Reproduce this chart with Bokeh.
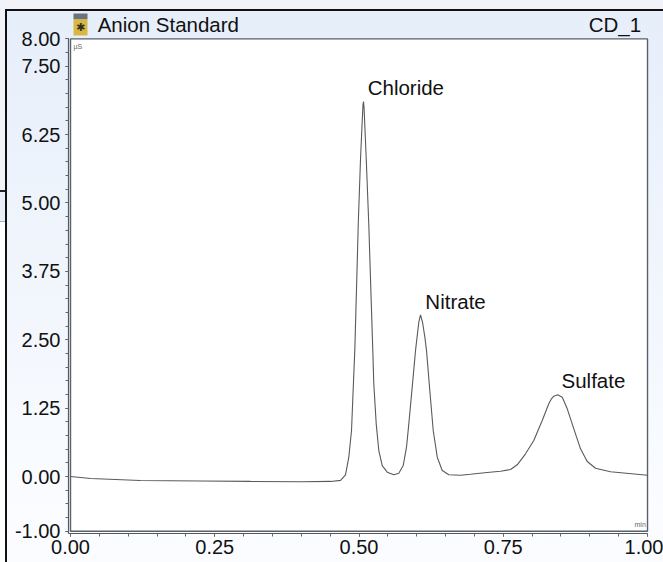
from bokeh.plotting import figure
from bokeh.embed import file_html
from bokeh.resources import INLINE
from bokeh.core.properties import value
from bokeh.models import FixedTicker, BoxAnnotation

title = "Anion Standard"
channel = "CD_1"
y_unit = "µS"
x_unit = "min"

time_min = [0.0, 0.035, 0.121, 0.225, 0.312, 0.40, 0.451, 0.468, 0.4766, 0.4823, 0.487, 0.491, 0.4927,
            0.4969, 0.4986, 0.5026, 0.5052, 0.5069, 0.5078, 0.5088, 0.5104, 0.5125, 0.517, 0.5211,
            0.5239, 0.5256, 0.5298, 0.5343, 0.5402, 0.5489, 0.5603, 0.569, 0.5766, 0.5823, 0.5863,
            0.5922, 0.5979, 0.6036, 0.6066, 0.6101, 0.6141, 0.617, 0.6227, 0.6286, 0.6356, 0.6442,
            0.6556, 0.6759, 0.693, 0.722, 0.7452, 0.7626, 0.7742, 0.7886, 0.8029, 0.8175, 0.8289,
            0.8335, 0.8376, 0.8445, 0.8522, 0.8609, 0.8723, 0.8839, 0.8955, 0.9099, 0.9359, 1.0]
signal_us = [0.0, -0.037, -0.073, -0.082, -0.09, -0.095, -0.09, -0.07, 0.03, 0.353, 0.841, 1.877, 2.31,
             3.91, 4.59, 5.81, 6.42, 6.80, 6.855, 6.73, 6.33, 5.81, 4.59, 3.22,
             2.30, 1.695, 0.963, 0.475, 0.20, 0.079, 0.031, 0.06, 0.20, 0.536, 0.963,
             1.633, 2.30, 2.82, 2.956, 2.82, 2.547, 2.30, 1.572, 0.841, 0.353, 0.11,
             0.031, 0.024, 0.04, 0.073, 0.097, 0.128, 0.214, 0.415, 0.658, 1.024, 1.33,
             1.42, 1.469, 1.495, 1.45, 1.237, 0.87, 0.506, 0.274, 0.151, 0.086, 0.024]

peak_names = ["Chloride", "Nitrate", "Sulfate"]
peak_label_x = [0.515, 0.615, 0.851]
peak_label_y = [7.11, 3.2, 1.755]

y_ticks = [-1.0, 0.0, 1.25, 2.5, 3.75, 5.0, 6.25, 7.5, 8.0]
y_labels = ["-1.00", "0.00", "1.25", "2.50", "3.75", "5.00", "6.25", "7.50", "8.00"]
y_minor = [-1 + 0.25 * i for i in range(37)]
x_ticks = [0.0, 0.25, 0.5, 0.75, 1.0]
x_labels = ["0.00", "0.25", "0.50", "0.75", "1.00"]
x_minor = [0.05 * i for i in range(21)]


def layer(color, x, y, w, h):
    return f"linear-gradient({color},{color}) {x}px {y}px / {w}px {h}px no-repeat"


window = [
    layer("#111111", 5, 9, 2, 553),
    layer("#111111", 5, 9, 658, 2),
    layer("#f1f3f8", 0, 0, 663, 9),
    layer("#f1f3f8", 0, 9, 5, 181),
    layer("#222222", 0, 190, 5, 2),
    layer("#e8eff8", 0, 192, 5, 29),
    layer("#aab0b8", 0, 221, 5, 1),
    layer("#ffffff", 0, 222, 5, 340),
    "linear-gradient(#e6eefa, #fafcff 90%)",
]

FONT = "Liberation Sans"
p = figure(width=663, height=562, output_backend="svg", toolbar_location=None,
           x_range=(-0.0035, 1.0277), y_range=(-1.042, 8.519),
           min_border_left=68, min_border_right=0, min_border_top=10, min_border_bottom=29,
           border_fill_alpha=0, background_fill_alpha=0, outline_line_color=None)
p.styles = {"background": ", ".join(window)}
p.grid.visible = False

for ax, ticks, minor, labels in ((p.xaxis[0], x_ticks, x_minor, x_labels), (p.yaxis[0], y_ticks, y_minor, y_labels)):
    ax.ticker = FixedTicker(ticks=ticks, minor_ticks=minor)
    ax.major_label_overrides = dict(zip(ticks, labels))
    ax.major_label_text_font = FONT
    ax.major_label_text_font_size = "20px"
    ax.major_label_text_color = "#111111"
    ax.axis_line_color = "#555a60"
    ax.axis_line_width = 1.2
    ax.major_tick_line_color = "#444444"
    ax.minor_tick_line_color = "#666666"
    ax.major_tick_in = 0
    ax.minor_tick_in = 0
    ax.major_tick_out = 3
    ax.minor_tick_out = 3
p.xaxis[0].bounds = (-0.0035, 1.0)
p.yaxis[0].bounds = (-1.042, 8.0)
p.xaxis[0].major_label_standoff = 3
p.yaxis[0].major_label_standoff = 5

p.quad(left=[x_ticks[0]], right=[x_ticks[-1]], bottom=[y_ticks[0]], top=[y_ticks[-1]],
       fill_color="white", line_color="#59616b", line_width=1.4)

p.line(time_min, signal_us, line_color="#5a5a5a", line_width=1.1)

p.text(peak_label_x, peak_label_y, text=peak_names, text_font=value(FONT), text_font_size="20.5px",
       text_color="#111111", text_baseline="middle", text_align="left")

p.text([0.047], [8.26], text=[title], text_font=value(FONT), text_font_size="20.5px",
       text_color="#111111", text_baseline="middle", text_align="left")
p.text([0.989], [8.26], text=[channel], text_font=value(FONT), text_font_size="20.5px",
       text_color="#111111", text_baseline="middle", text_align="right")
p.text([0.005], [7.87], text=[y_unit], text_font=value(FONT), text_font_size="7px",
       text_color="#666666", text_baseline="middle", text_align="left")
p.text([0.997], [-0.88], text=[x_unit], text_font=value(FONT), text_font_size="7px",
       text_color="#666666", text_baseline="middle", text_align="right")


def box(l, t, r, b, color):
    p.add_layout(BoxAnnotation(left=l, right=r, top=t, bottom=b,
                               left_units="canvas", right_units="canvas",
                               top_units="canvas", bottom_units="canvas",
                               fill_color=color, fill_alpha=1, line_color=None, level="annotation",
                               editable=False))


box(73, 13, 87, 19, "#6f7275")
box(73, 19, 87, 35, "#d8b745")
p.text([0.0173], [8.205], text=["✱"], text_font=value("DejaVu Sans"), text_font_size="11px",
       text_color="#33301f", text_baseline="middle", text_align="center", level="overlay")

open("out.html", "w").write(file_html(p, INLINE))
